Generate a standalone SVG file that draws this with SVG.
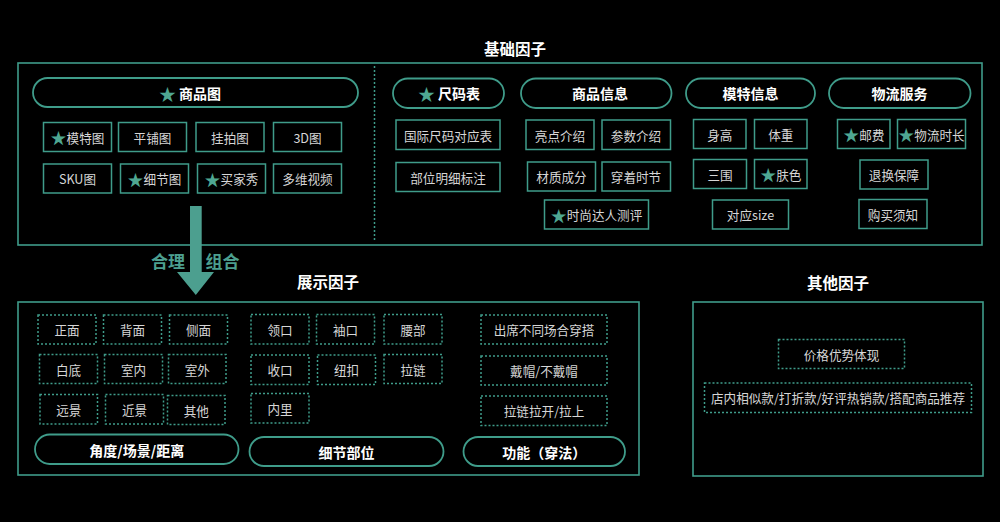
<svg xmlns="http://www.w3.org/2000/svg" width="1000" height="522" viewBox="0 0 1000 522">
<style>
text{font-family:"Noto Sans CJK SC","Noto Sans",sans-serif;text-anchor:middle;dominant-baseline:central}
.title{font-size:15.5px;font-weight:bold;fill:#ffffff}
.frame{fill:none;stroke:#3f9c8a;stroke-width:1.6}
.pill{fill:none;stroke:#3f9c8a;stroke-width:1.8}
.pt{font-size:14px;font-weight:bold;fill:#ffffff}
.box{fill:none;stroke:#3f9c8a;stroke-width:1.5}
.dot{fill:none;stroke:#3f9c8a;stroke-width:1.5;stroke-dasharray:2 2}
.bt{font-size:12.6px;fill:#d6d6d6}
.st{fill:#4fa792;font-size:16px}
.pt .st{font-size:17px}
</style>
<rect width="1000" height="522" fill="#000000"/>
<text class="title" x="515" y="48">基础因子</text>
<text class="title" x="328" y="281">展示因子</text>
<text class="title" x="838" y="282">其他因子</text>

<g id="frame-basic">
<rect class="frame" x="18" y="63" width="964" height="182"/>
<line x1="374.5" y1="66" x2="374.5" y2="242" stroke="#3f9c8a" stroke-width="1.5" stroke-dasharray="2 2"/>
</g>
<g id="frame-display"><rect class="frame" x="18" y="302" width="621" height="173"/></g>
<g id="frame-other"><rect class="frame" x="693" y="302" width="290" height="174"/></g>

<g id="n-shangpintu"><rect class="pill" x="33" y="78" width="325" height="29" rx="14.5"/><text class="pt" x="190" y="92.5"><tspan class="st">★</tspan> 商品图</text></g>
<g id="n-mote"><rect class="box" x="43.5" y="122.5" width="68" height="29"/><text class="bt" x="77.5" y="137"><tspan class="st">★</tspan>模特图</text></g>
<g id="n-pingpu"><rect class="box" x="118.5" y="122.5" width="68" height="29"/><text class="bt" x="152.5" y="137">平铺图</text></g>
<g id="n-guapai"><rect class="box" x="196" y="122.5" width="68" height="29"/><text class="bt" x="230" y="137">挂拍图</text></g>
<g id="n-3d"><rect class="box" x="273.5" y="122.5" width="68" height="29"/><text class="bt" x="307.5" y="137">3D图</text></g>
<g id="n-sku"><rect class="box" x="43.5" y="164" width="68" height="29"/><text class="bt" x="77.5" y="178.5">SKU图</text></g>
<g id="n-xijie"><rect class="box" x="120.5" y="164" width="68" height="29"/><text class="bt" x="154.5" y="178.5"><tspan class="st">★</tspan>细节图</text></g>
<g id="n-maijia"><rect class="box" x="197.5" y="164" width="68" height="29"/><text class="bt" x="231.5" y="178.5"><tspan class="st">★</tspan>买家秀</text></g>
<g id="n-duowei"><rect class="box" x="273.5" y="164" width="68" height="29"/><text class="bt" x="307.5" y="178.5">多维视频</text></g>

<g id="n-chima"><rect class="pill" x="393" y="78.5" width="111" height="29.5" rx="14.75"/><text class="pt" x="449" y="93"><tspan class="st">★</tspan> 尺码表</text></g>
<g id="n-guoji"><rect class="box" x="396" y="120" width="104" height="29.5"/><text class="bt" x="448" y="135">国际尺码对应表</text></g>
<g id="n-buwei"><rect class="box" x="396" y="162.5" width="104" height="29"/><text class="bt" x="448" y="177">部位明细标注</text></g>

<g id="n-spxx"><rect class="pill" x="521" y="78.5" width="150.5" height="29.5" rx="14.75"/><text class="pt" x="600" y="93">商品信息</text></g>
<g id="n-liangdian"><rect class="box" x="526" y="120" width="68" height="29.5"/><text class="bt" x="560" y="135">亮点介绍</text></g>
<g id="n-canshu"><rect class="box" x="602" y="120" width="68.5" height="29.5"/><text class="bt" x="636" y="135">参数介绍</text></g>
<g id="n-caizhi"><rect class="box" x="527.5" y="162" width="68" height="29"/><text class="bt" x="561.5" y="176.5">材质成分</text></g>
<g id="n-chuanzhuo"><rect class="box" x="602" y="162" width="68.5" height="29"/><text class="bt" x="636" y="176.5">穿着时节</text></g>
<g id="n-shishang"><rect class="box" x="544.5" y="200" width="104" height="29"/><text class="bt" x="596.5" y="214.5"><tspan class="st">★</tspan>时尚达人测评</text></g>

<g id="n-motexx"><rect class="pill" x="686" y="78.5" width="129" height="29.5" rx="14.75"/><text class="pt" x="750.5" y="93">模特信息</text></g>
<g id="n-shengao"><rect class="box" x="693.5" y="119.5" width="52.5" height="29"/><text class="bt" x="719.75" y="134">身高</text></g>
<g id="n-tizhong"><rect class="box" x="754.5" y="119.5" width="52.5" height="29"/><text class="bt" x="780.75" y="134">体重</text></g>
<g id="n-sanwei"><rect class="box" x="693.5" y="159.5" width="53" height="29"/><text class="bt" x="720" y="174">三围</text></g>
<g id="n-fuse"><rect class="box" x="754.5" y="159.5" width="52.5" height="29"/><text class="bt" x="780.75" y="174"><tspan class="st">★</tspan>肤色</text></g>
<g id="n-size"><rect class="box" x="712.5" y="200" width="76" height="29"/><text class="bt" x="750.5" y="214.5">对应size</text></g>

<g id="n-wuliu"><rect class="pill" x="829" y="78.5" width="141.5" height="29.5" rx="14.75"/><text class="pt" x="899.5" y="93">物流服务</text></g>
<g id="n-youfei"><rect class="box" x="837.5" y="119.5" width="52.5" height="29"/><text class="bt" x="863.75" y="134"><tspan class="st">★</tspan>邮费</text></g>
<g id="n-shichang"><rect class="box" x="897.5" y="119.5" width="68" height="29"/><text class="bt" x="931.5" y="134"><tspan class="st">★</tspan>物流时长</text></g>
<g id="n-tuihuan"><rect class="box" x="860" y="160" width="68" height="29"/><text class="bt" x="894" y="174.5">退换保障</text></g>
<g id="n-goumai"><rect class="box" x="859" y="199.5" width="68" height="29"/><text class="bt" x="893" y="214">购买须知</text></g>

<g id="connectors">
<path d="M190 206 H201.7 V272 H214 L195.8 295 L177 272 H190 Z" fill="#4c9f8f"/>
<text x="168" y="260" style="font-size:17px;font-weight:bold;fill:#4c9f8f">合理</text>
<text x="222.5" y="260" style="font-size:17px;font-weight:bold;fill:#4c9f8f">组合</text>
</g>

<g id="n-zhengmian"><rect class="dot" x="38" y="315" width="58" height="29"/><text class="bt" x="67" y="329.5">正面</text></g>
<g id="n-beimian"><rect class="dot" x="103.5" y="315" width="58" height="29"/><text class="bt" x="132.5" y="329.5">背面</text></g>
<g id="n-cemian"><rect class="dot" x="169.5" y="315" width="58" height="29"/><text class="bt" x="198.5" y="329.5">侧面</text></g>
<g id="n-baidi"><rect class="dot" x="39.5" y="354.5" width="58" height="29"/><text class="bt" x="68.5" y="369">白底</text></g>
<g id="n-shinei"><rect class="dot" x="104.5" y="354.5" width="58" height="29"/><text class="bt" x="133.5" y="369">室内</text></g>
<g id="n-shiwai"><rect class="dot" x="168.5" y="354.5" width="57.5" height="29"/><text class="bt" x="197.25" y="369">室外</text></g>
<g id="n-yuanjing"><rect class="dot" x="40" y="394.5" width="57.5" height="29.5"/><text class="bt" x="68.75" y="409">远景</text></g>
<g id="n-jinjing"><rect class="dot" x="105.5" y="394.5" width="58" height="29.5"/><text class="bt" x="134.5" y="409">近景</text></g>
<g id="n-qita"><rect class="dot" x="167.5" y="395.5" width="57.5" height="29"/><text class="bt" x="196.25" y="410">其他</text></g>
<g id="n-jiaodu"><rect class="pill" x="35" y="434.5" width="203.5" height="29.5" rx="14.75"/><text class="pt" x="136.75" y="449.5">角度/场景/距离</text></g>

<g id="n-lingkou"><rect class="dot" x="251" y="314.5" width="58" height="29.5"/><text class="bt" x="280" y="329">领口</text></g>
<g id="n-xiukou"><rect class="dot" x="316.5" y="314.5" width="58" height="29.5"/><text class="bt" x="345.5" y="329">袖口</text></g>
<g id="n-yaobu"><rect class="dot" x="384" y="314.5" width="58" height="29.5"/><text class="bt" x="413" y="329">腰部</text></g>
<g id="n-shoukou"><rect class="dot" x="251" y="355" width="58" height="29.5"/><text class="bt" x="280" y="369.5">收口</text></g>
<g id="n-niukou"><rect class="dot" x="317.5" y="355" width="58" height="29.5"/><text class="bt" x="346.5" y="369.5">纽扣</text></g>
<g id="n-lalian"><rect class="dot" x="384" y="354.5" width="58" height="29"/><text class="bt" x="413" y="369">拉链</text></g>
<g id="n-neili"><rect class="dot" x="251" y="393.5" width="58" height="29.5"/><text class="bt" x="280" y="408">内里</text></g>
<g id="n-xijiebuwei"><rect class="pill" x="249.5" y="437" width="194" height="29" rx="14.5"/><text class="pt" x="346.5" y="451.5">细节部位</text></g>

<g id="n-chuxi"><rect class="dot" x="481" y="315" width="126" height="29"/><text class="bt" x="544" y="329.5">出席不同场合穿搭</text></g>
<g id="n-daimao"><rect class="dot" x="481" y="356" width="126" height="29"/><text class="bt" x="544" y="370.5">戴帽/不戴帽</text></g>
<g id="n-lalianlakai"><rect class="dot" x="481" y="396" width="126" height="29.5"/><text class="bt" x="544" y="410.5">拉链拉开/拉上</text></g>
<g id="n-gongneng"><rect class="pill" x="463.5" y="437" width="161.5" height="29" rx="14.5"/><text class="pt" x="544.25" y="451.5">功能（穿法）</text></g>

<g id="n-jiage"><rect class="dot" x="778.5" y="339.5" width="126" height="29"/><text class="bt" x="841.5" y="354">价格优势体现</text></g>
<g id="n-diannei"><rect class="dot" x="704.5" y="383" width="267" height="29.5"/><text class="bt" x="838" y="397.5">店内相似款/打折款/好评热销款/搭配商品推荐</text></g>
</svg>
